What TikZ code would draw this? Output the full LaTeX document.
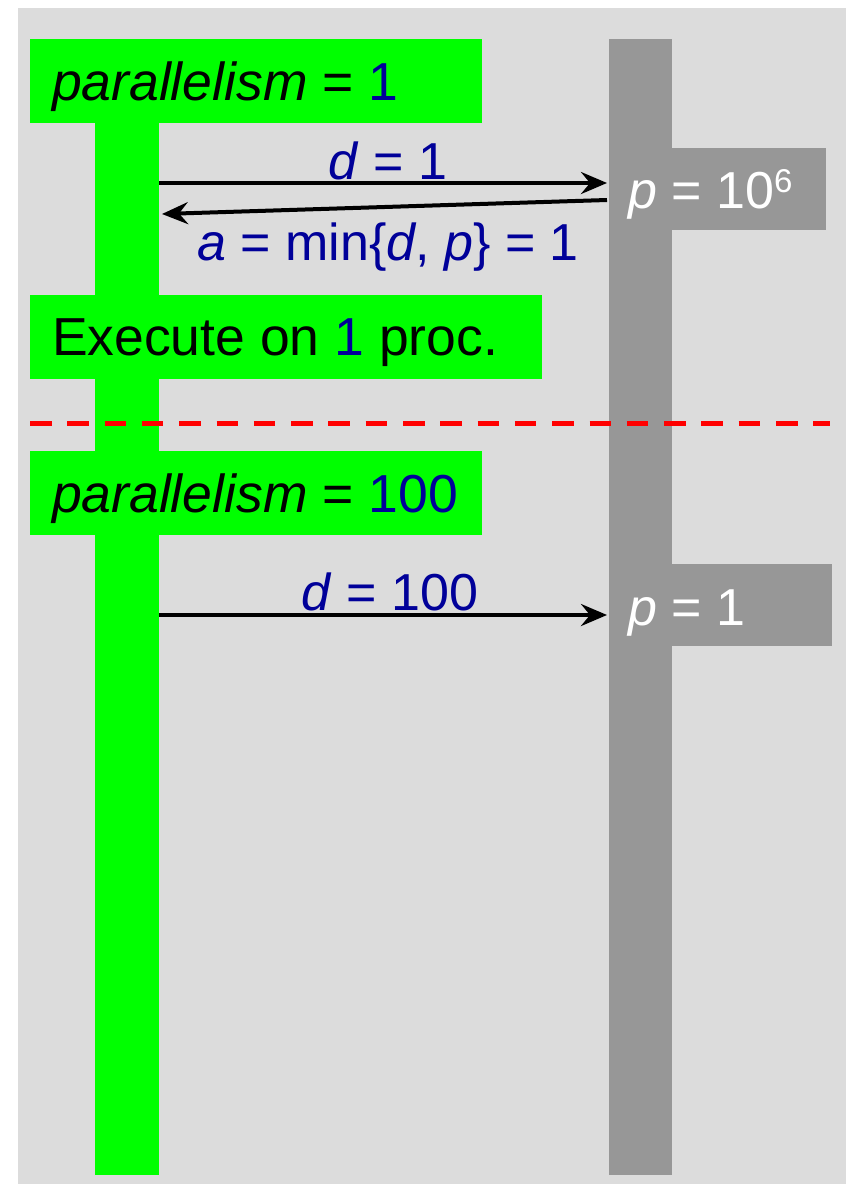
\documentclass[tikz,border=0pt]{standalone}
\usepackage{fontspec}
\setmainfont{Liberation Sans}
\usetikzlibrary{arrows.meta}
\definecolor{bgc}{HTML}{DCDCDC}
\definecolor{gbar}{HTML}{00FF00}
\definecolor{pbar}{HTML}{979797}
\definecolor{lbl}{HTML}{000099}
\begin{document}
\begin{tikzpicture}[x=1pt,y=-1pt,
  blk/.style={inner sep=0pt, outer sep=0pt, draw=none},
  gblk/.style={blk, fill=gbar},
  pblk/.style={blk, fill=pbar},
  txt/.style={inner sep=0pt, outer sep=0pt, font=\fontsize{52}{60}\selectfont},
  btxt/.style={inner sep=0pt, outer sep=0pt, font=\fontsize{53.5}{60}\selectfont},
  arr/.style={line width=4pt, -{Stealth[length=26pt, width=22pt, inset=9pt]}},
  sep/.style={red, line width=5pt, dash pattern=on 21.5pt off 15.8pt}]
\useasboundingbox (0,0) rectangle (848,1184);
% background
\node[blk, fill=bgc, minimum width=828pt, minimum height=1176pt] (bg) at (432,596) {};
% process lifeline
\node[pblk, minimum width=63pt, minimum height=1136pt] (pbar) at (640.5,607) {};
\node[pblk, minimum width=217pt, minimum height=82pt] (pb1) at (717.5,189) {};
\node[pblk, minimum width=223pt, minimum height=82pt] (pb2) at (720.5,605) {};
% green lifeline
\node[gblk, minimum width=64pt, minimum height=1136pt] (gbar) at (127,607) {};
\node[gblk, minimum width=452pt, minimum height=84pt] (gb1) at (256,81) {};
\node[gblk, minimum width=512pt, minimum height=84pt] (gb2) at (286,337) {};
\node[gblk, minimum width=452pt, minimum height=84pt] (gb3) at (256,493) {};
% separator
\coordinate (s1) at (30,423);
\coordinate (s2) at (830,423);
\draw[sep] (s1) -- (s2);
% arrows
\coordinate (a1s) at (159,183);
\coordinate (a1e) at (607,183);
\coordinate (a2s) at (607,200);
\coordinate (a2e) at (162,214);
\coordinate (a3s) at (159,615);
\coordinate (a3e) at (607,615);
\draw[arr] (a1s) -- (a1e);
\draw[arr] (a2s) -- (a2e);
\draw[arr] (a3s) -- (a3e);
% box texts
\node[btxt, anchor=base west] (t1) at (52,100) {\textit{parallelism} = \textcolor{lbl}{1}};
\node[btxt, anchor=base west] (t2) at (52,355) {Execute on \textcolor{lbl}{1} proc.};
\node[btxt, anchor=base west] (t3) at (52,512) {\textit{parallelism} = \textcolor{lbl}{100}};
\node[txt, anchor=base west, text=white] (t4) at (628,208) {\textit{p} = 10\raisebox{16pt}{\fontsize{33}{33}\selectfont 6}};
\node[txt, anchor=base west, text=white] (t5) at (628,625) {\textit{p} = 1};
% arrow labels
\node[txt, anchor=base, text=lbl] (l1) at (388,179) {\textit{d} = 1};
\node[txt, anchor=base, text=lbl] (l2) at (388,260) {\textit{a} = min\{\textit{d}, \textit{p}\} = 1};
\node[txt, anchor=base, text=lbl] (l3) at (390,610) {\textit{d} = 100};
\end{tikzpicture}
\end{document}
